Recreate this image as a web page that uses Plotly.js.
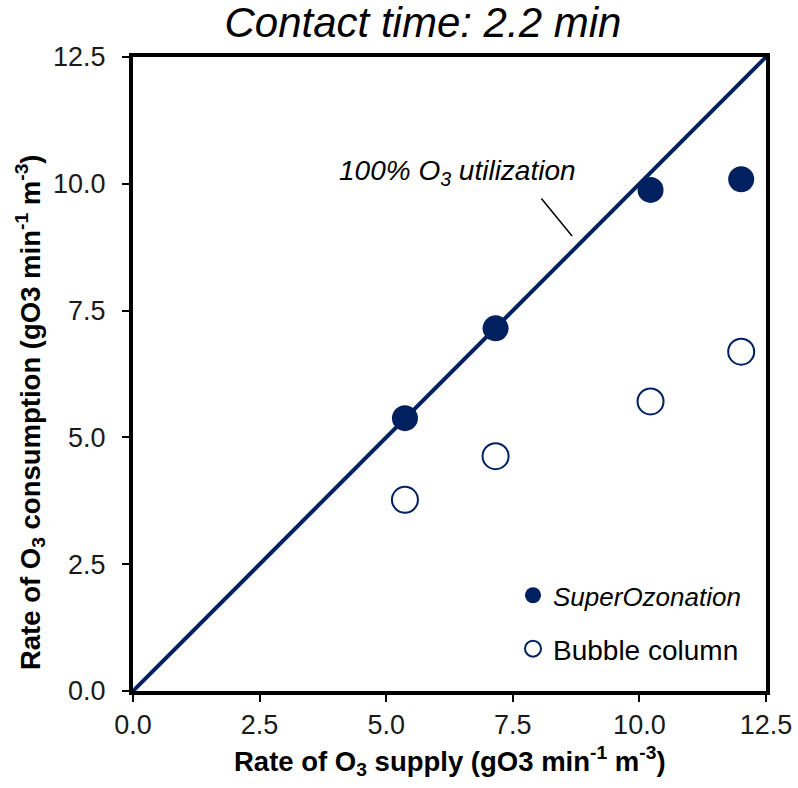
<!DOCTYPE html>
<html>
<head>
<meta charset="utf-8">
<script src="https://cdn.plot.ly/plotly-3.0.1.min.js"></script>
<style>html,body{margin:0;padding:0;background:#fff;}#chart{width:798px;height:788px;}</style>
</head>
<body>
<div id="chart"></div>
<script>
const superX = [5.37, 7.16, 10.22, 12.01];
const superY = [5.38, 7.15, 9.88, 10.09];
const bubbleX = [5.37, 7.16, 10.22, 12.01];
const bubbleY = [3.77, 4.63, 5.71, 6.69];
const lineX = [0, 12.5];
const lineY = [0, 12.5];
const tickVals = [0, 2.5, 5, 7.5, 10, 12.5];
const tickText = ["0.0", "2.5", "5.0", "7.5", "10.0", "12.5"];

const navy = "#002060";
const font = "Liberation Sans, Arial, sans-serif";
const W = 798, ML = 120, MR = 32;
const plotW = W - ML - MR;

const traces = [
  {x: lineX, y: lineY, yaxis: "y2", mode: "lines", line: {color: navy, width: 4}, showlegend: false, hoverinfo: "skip"},
  {x: superX, y: superY, mode: "markers", name: "<i><span style=\"font-size:26px\">SuperOzonation</span></i>", legendgroup: "a",
   marker: {color: navy, size: 26, line: {width: 0}}},
  {x: bubbleX, y: bubbleY, mode: "markers", name: "Bubble column", legendgroup: "b",
   marker: {color: "#ffffff", size: 26, line: {color: navy, width: 2}}}
];

const tf = {family: font, size: 27, color: "#1a1a1a"};

const layout = {
  width: W, height: 788,
  font: {family: font, size: 27, color: "#1a1a1a"},
  margin: {l: ML, r: MR, t: 57, b: 97},
  paper_bgcolor: "#fff", plot_bgcolor: "#fff",
  title: {text: "<i>Contact time: 2.2 min</i>", x: 0.53, xanchor: "center", y: 0.972, yanchor: "middle",
          font: {family: font, size: 42, color: "#000"}},
  xaxis: {domain: [13 / plotW, 1], range: [0, 12.5], tickvals: tickVals, ticktext: tickText,
          showgrid: false, zeroline: false, showline: true, linecolor: "#000", linewidth: 4,
          mirror: true, ticks: "outside", ticklen: 7, tickwidth: 2, tickcolor: "#000", tickfont: tf},
  yaxis: {range: [0, 12.5], tickvals: tickVals, showticklabels: false,
          showgrid: false, zeroline: false, showline: true, linecolor: "#000", linewidth: 4,
          mirror: true, ticks: "outside", ticklen: 7, tickwidth: 2, tickcolor: "#000"},
  yaxis2: {overlaying: "y", anchor: "free", position: 0, side: "left", range: [0, 12.5],
           tickvals: tickVals, ticktext: tickText, showgrid: false, zeroline: false, showline: false,
           ticks: "outside", ticklen: 9, tickcolor: "rgba(0,0,0,0)", tickfont: tf},
  legend: {x: (513 - ML) / plotW, y: 0.19, xanchor: "left", yanchor: "top", bgcolor: "rgba(0,0,0,0)",
           font: {family: font, size: 28, color: "#000"}, traceorder: "grouped", tracegroupgap: 14,
           itemwidth: 30},
  showlegend: true,
  annotations: [
    {x: 8.67, y: 8.97, ax: 8.04, ay: 9.74, axref: "x", ayref: "y", xref: "x", yref: "y",
     showarrow: true, arrowhead: 0, arrowwidth: 1.5, arrowcolor: "#000", text: ""},
    {x: 6.4, y: 10.23, xref: "x", yref: "y", showarrow: false,
     text: "<i>100% O<sub>3</sub> utilization</i>", font: {family: font, size: 28, color: "#000"}},
    {x: (449.5 - ML) / plotW, y: -0.11, xref: "paper", yref: "paper", xanchor: "center", yanchor: "middle", showarrow: false,
     text: "<b>Rate of O<sub>3</sub> supply (gO3 min<sup>-1</sup> m<sup>-3</sup>)</b>",
     font: {family: font, size: 27.5, color: "#000"}},
    {x: (30 - ML) / plotW, y: 0.44, xref: "paper", yref: "paper", xanchor: "center", yanchor: "middle", showarrow: false,
     textangle: -90,
     text: "<b>Rate of O<sub>3</sub> consumption (gO3 min<sup>-1</sup> m<sup>-3</sup>)</b>",
     font: {family: font, size: 27.5, color: "#000"}}
  ]
};

Plotly.newPlot("chart", traces, layout, {displayModeBar: false, responsive: false});
</script>
</body>
</html>
